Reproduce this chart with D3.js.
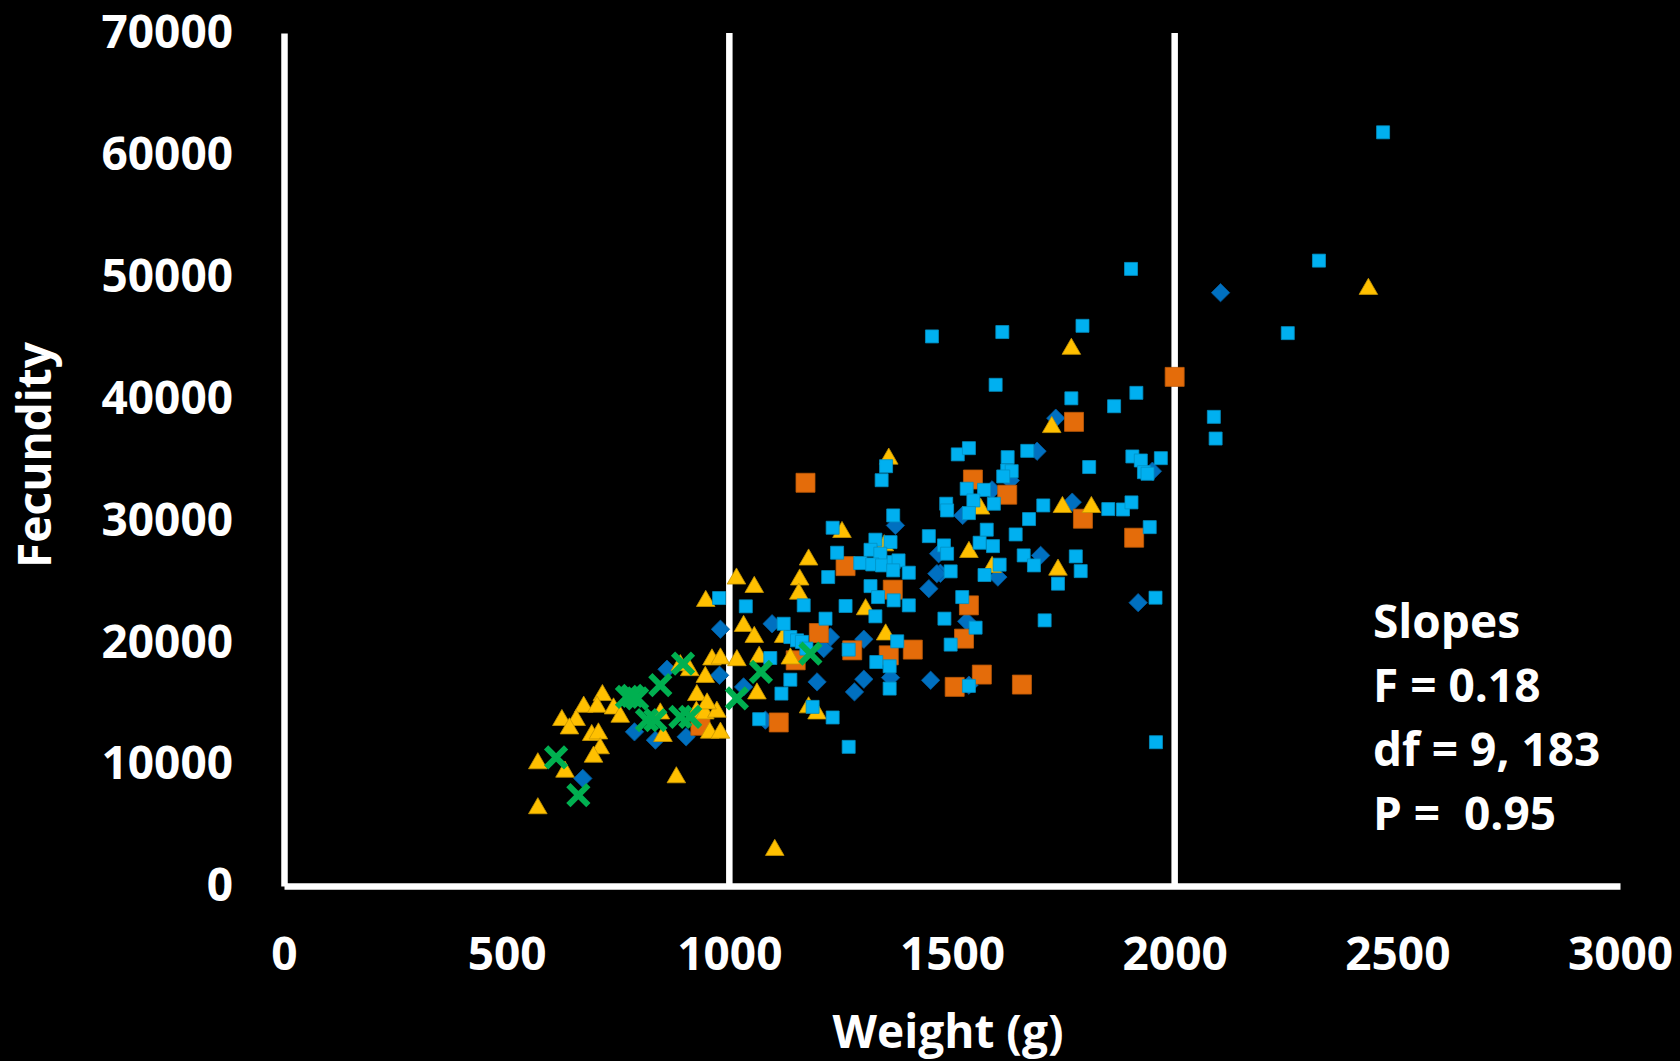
<!DOCTYPE html>
<html>
<head>
    <meta charset="utf-8">
    <title>Fecundity vs Weight</title>
    <script src="https://d3js.org/d3.v7.min.js"></script>
    <style>
        body { margin: 0; background: #000; }
        text { font-family: "Open Sans", "Noto Sans", sans-serif; font-weight: bold; fill: #fff; }
    </style>
</head>

<body>
<div id="chart"></div>
<script type="text/javascript">
    // dados: [peso (g), fecundidade]
    let lightBlueSquares = [
        [2468,61850],[2324,51320],[2254,45370],[2088,38500],[2092,36720],[1902,50640],
        [1613,45460],[1793,45970],[1455,45100],[1598,41130],[1768,40020],[1864,39370],[1914,40470],
        [1513,35420],[1538,35930],[1625,35190],[1669,35710],[1808,34380],[1905,35250],[1924,34920],[1969,35110],[1931,33960],[1939,33830],
        [1624,34100],[1634,34040],[1615,33610],[1533,32600],[1572,32510],[1548,31640],[1487,31370],[1489,30820],[1538,30600],[1594,31370],
        [1705,31230],[1851,30930],[1884,30900],[1903,31480],[1944,29450],[1673,30110],[1578,29240],[1643,28850],[1562,28170],[1592,27890],
        [1482,27950],[1489,27270],[1661,27130],[1778,27050],[1497,25820],[1607,26370],[1573,25520],[1684,26310],[1789,25840],[1738,24810],
        [1523,23710],[1483,21940],[1553,21200],[1497,19810],[1708,21800],[1957,23660],[1538,16420],[1958,11800],
        [1352,34450],[1342,33300],[1368,30410],[1232,29400],[1448,28710],[1328,28420],[1362,28220],[1317,27590],[1339,27270],[1242,27350],
        [1294,26500],[1321,26390],[1343,26310],[1369,26580],[1380,26720],[1368,25900],[1403,25710],[1222,25350],[1317,24610],[1334,23710],
        [1369,23440],[1403,23030],[1261,22980],[1328,22130],[1167,23030],[1216,21940],[977,23630],[1037,22950],[1122,21520],[1137,20430],
        [1152,20160],[1163,20030],[1173,19480],[1377,20080],[1268,19400],[1092,18710],[1330,18380],[1360,18030],[1360,16200],[1137,16930],
        [1117,15790],[1187,14700],[1232,13830],[1067,13690],[1268,11420]
    ];

    let darkBlueDiamonds = [
        [2103,48690],[1733,38390],[1691,35680],[1950,34040],[1631,33280],[1590,32510],[1524,30410],[1770,31500],[1699,27130],[1474,25660],
        [1603,25350],[1533,21720],[1918,23250],[1538,16480],[1373,29590],[1470,27270],[1466,25630],[1448,24400],[980,21070],[1096,21520],
        [1227,20430],[1302,20250],[1212,19480],[1362,17100],[1452,16880],[1302,16970],[1281,15930],[1197,16750],[978,17290],[1032,16340],
        [1081,13610],[903,12240],[860,17790],[787,12650],[834,11970],[671,8830]
    ];

    let orangeSquares = [
        [2000,41780],[1774,38090],[1547,33360],[1624,32110],[1794,30140],[1909,28580],[1171,33090],[1261,26250],[1367,24320],[1538,23030],
        [1527,20300],[1567,17350],[1506,16340],[1657,16530],[1201,20760],[1276,19340],[1358,18930],[1412,19400],[1149,18520],[1111,13420],[935,13150]
    ];

    let yellowTriangles = [
        [2435,48990],[1768,44070],[1724,37650],[1358,35060],[1564,30960],[1748,31090],[1813,31090],[1538,27400],[1590,26170],[1738,25950],
        [1253,29040],[1348,27950],[1178,26780],[1158,25140],[1156,23980],[1056,24530],[1016,25220],[947,23380],[1032,21330],[1056,20430],
        [1122,20430],[1351,20630],[1306,22700],[1137,18660],[1067,18800],[1017,18520],[961,18580],[980,18660],[946,17150],[1062,15790],
        [1178,14650],[1197,14150],[1102,2950],[911,17700],[927,15660],[926,14290],[945,14150],[972,14290],[956,12570],[980,12570],
        [881,8910],[851,12300],[890,18110],[715,15660],[673,14700],[703,14700],[740,14560],[755,13880],[624,13610],[656,13610],
        [641,12920],[691,12380],[706,12510],[710,11290],[695,10600],[631,9370],[570,10060],[570,6370],[845,14150],[950,14970]
    ];

    let greenCrosses = [
        [896,18250],[845,16480],[770,15520],[782,15600],[793,15400],[815,13610],[834,13610],[890,13880],[912,13880],[611,10550],
        [661,7460],[1017,15390],[1071,17570],[1182,19070]
    ];

    let xTicks = [0, 500, 1000, 1500, 2000, 2500, 3000];
    let yTicks = [0, 10000, 20000, 30000, 40000, 50000, 60000, 70000];
    let guideLines = [1000, 2000];
    let slopesText = ["Slopes", "F = 0.18", "df = 9, 183", "P =  0.95"];

    let margin = {top: 33, right: 60, bottom: 175, left: 284};
    let w = 1680 - margin.left - margin.right;
    let h = 1061 - margin.top - margin.bottom;

    let svg = d3.select("#chart")
            .append("svg")
                .attr("width", w + margin.left + margin.right)
                .attr("height", h + margin.top + margin.bottom)
                .style("background", "#000")
            .append("g")
                .attr("transform", "translate(" + margin.left + "," + margin.top + ")");

    let xScale = d3.scaleLinear().domain([0, 3000]).range([0, w]);
    let yScale = d3.scaleLinear().domain([0, 70000]).range([h, 0]);

    // linhas verticais em 1000 e 2000
    svg.selectAll("line.guide")
        .data(guideLines)
        .enter()
        .append("line")
            .attr("class", "guide")
            .attr("x1", d => xScale(d))
            .attr("x2", d => xScale(d))
            .attr("y1", yScale(70000))
            .attr("y2", yScale(0))
            .attr("stroke", "#fff")
            .attr("stroke-width", 6.5);

    let xAxis = d3.axisBottom(xScale).tickValues(xTicks).tickFormat(d3.format("d")).tickSize(0).tickPadding(51);
    let yAxis = d3.axisLeft(yScale).tickValues(yTicks).tickFormat(d3.format("d")).tickSize(0).tickPadding(51);

    let gx = svg.append("g").attr("transform", "translate(0," + h + ")").call(xAxis);
    let gy = svg.append("g").call(yAxis);

    [gx, gy].forEach(function(g){
        g.select(".domain").attr("stroke", "#fff").attr("stroke-width", 6.5);
        g.selectAll("text")
            .attr("fill", "#fff")
            .attr("font-size", "46px")
            .attr("font-family", null);
    });

    // marcadores
    let squareSmall = d3.symbol().type(d3.symbolSquare).size(169);
    let squareBig = d3.symbol().type(d3.symbolSquare).size(361);
    let tri = d3.symbol().type(d3.symbolTriangle).size(150);

    svg.selectAll("path.diamond")
        .data(darkBlueDiamonds)
        .enter()
        .append("path")
            .attr("class", "diamond")
            .attr("d", squareSmall)
            .attr("transform", d => "translate(" + xScale(d[0]) + "," + yScale(d[1]) + ") rotate(45)")
            .attr("fill", "#0070C0")
            .attr("stroke", "#005a9c")
            .attr("stroke-width", 0.8);

    svg.selectAll("path.orange")
        .data(orangeSquares)
        .enter()
        .append("path")
            .attr("class", "orange")
            .attr("d", squareBig)
            .attr("transform", d => "translate(" + xScale(d[0]) + "," + yScale(d[1]) + ")")
            .attr("fill", "#E46C0A")
            .attr("stroke", "#c05a08")
            .attr("stroke-width", 0.8);

    svg.selectAll("path.tri")
        .data(yellowTriangles)
        .enter()
        .append("path")
            .attr("class", "tri")
            .attr("d", tri)
            .attr("transform", d => "translate(" + xScale(d[0]) + "," + yScale(d[1]) + ")")
            .attr("fill", "#FFC000")
            .attr("stroke", "#c89600")
            .attr("stroke-width", 0.8);

    svg.selectAll("path.lb")
        .data(lightBlueSquares)
        .enter()
        .append("path")
            .attr("class", "lb")
            .attr("d", squareSmall)
            .attr("transform", d => "translate(" + xScale(d[0]) + "," + yScale(d[1]) + ")")
            .attr("fill", "#00B0F0")
            .attr("stroke", "#0090c4")
            .attr("stroke-width", 0.8);

    svg.selectAll("path.cross")
        .data(greenCrosses)
        .enter()
        .append("path")
            .attr("class", "cross")
            .attr("d", "M-10,-10L10,10M-10,10L10,-10")
            .attr("transform", d => "translate(" + xScale(d[0]) + "," + yScale(d[1]) + ")")
            .attr("stroke", "#00B050")
            .attr("stroke-width", 6)
            .attr("fill", "none");

    // titulos dos eixos
    svg.append("text")
        .attr("x", 948 - margin.left)
        .attr("y", 1048 - margin.top)
        .style("text-anchor", "middle")
        .attr("font-size", "46px")
        .text("Weight (g)");

    svg.append("text")
        .attr("transform", "rotate(-90)")
        .attr("x", -(455 - margin.top))
        .attr("y", 51 - margin.left)
        .style("text-anchor", "middle")
        .attr("font-size", "46px")
        .text("Fecundity");

    // caixa de texto com o teste das inclinacoes
    svg.selectAll("text.slopes")
        .data(slopesText)
        .enter()
        .append("text")
            .attr("class", "slopes")
            .attr("x", 1373 - margin.left)
            .attr("y", (d, i) => 638 - margin.top + i * 64)
            .attr("font-size", "46px")
            .style("white-space", "pre")
            .text(d => d);
</script>
</body>
</html>
